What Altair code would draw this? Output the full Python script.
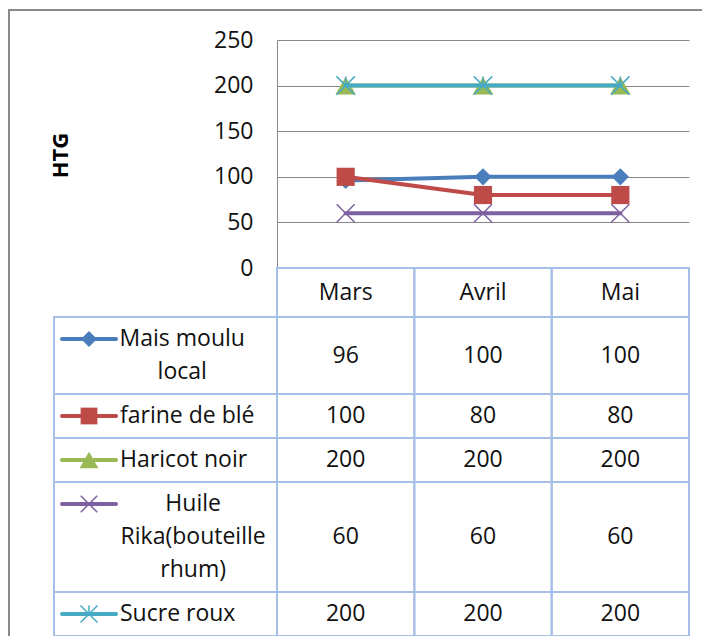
import altair as alt
import pandas as pd

# ---------------- data ----------------
months = ["Mars", "Avril", "Mai"]
series = ["Mais moulu local", "farine de blé", "Haricot noir",
          "Huile Rika(bouteille rhum)", "Sucre roux"]
label_lines = [["Mais moulu", "local"], ["farine de blé"], ["Haricot noir"],
               ["Huile", "Rika(bouteille", "rhum)"], ["Sucre roux"]]
mais = [96, 100, 100]
farine = [100, 80, 80]
haricot = [200, 200, 200]
huile = [60, 60, 60]
sucre = [200, 200, 200]
series_values = [mais, farine, haricot, huile, sucre]
y_ticks = [0, 50, 100, 150, 200, 250]
y_title = "HTG"

# ---------------- style / layout ----------------
FONT = "Open Sans"
FS = 23
GRID = "#878787"
BORDER = "#a6bfe8"
COLORS = ["#4a7ebb", "#be4b48", "#98b954", "#7d60a0", "#46aac5"]
X_PATH = "M-1,-1L1,1M-1,1L1,-1"
STAR_PATH = "M-1,-1L1,1M-1,1L1,-1M0,-1L0,0"
MARKERS = [
    dict(shape="diamond", filled=True, size=300, strokeWidth=1),
    dict(shape="square", filled=True, size=330, strokeWidth=1),
    dict(shape="triangle-up", filled=True, size=420, strokeWidth=1),
    dict(shape=X_PATH, filled=False, size=320, strokeWidth=1.5),
    dict(shape=STAR_PATH, filled=False, size=340, strokeWidth=1.5),
]

W, H = 412, 228
COL_PX = W / len(months)
LINE_PX = 33.0
PAD_U = 11 / LINE_PX
HDR_U = 49 / LINE_PX
LABEL_U = 223 / COL_PX          # width of the legend/label column (in column units)
SYM_X0 = -LABEL_U + 8 / COL_PX  # legend line start
SYM_X1 = -LABEL_U + 62 / COL_PX # legend line end
TXT_X = -LABEL_U + 66 / COL_PX  # label text start


def est_width(s):
    w = 0.0
    for ch in s:
        if ch in "il()t.,'":
            w += 0.30
        elif ch in "mMwW":
            w += 0.85
        elif ch == " ":
            w += 0.26
        else:
            w += 0.57
    return w * FS


# ---------------- line chart ----------------
rows = []
for s, vals in zip(series, series_values):
    for m, v in zip(months, vals):
        rows.append({"Produit": s, "Mois": m, "Prix": v})
df = pd.DataFrame(rows)

x_enc = alt.X("Mois:N", sort=months,
              scale=alt.Scale(type="point", domain=months, padding=0.5),
              axis=None)
y_axis = alt.Axis(values=y_ticks, grid=True, gridColor=GRID, gridWidth=1,
                  domain=True, domainColor=GRID, domainWidth=1, ticks=False,
                  labelPadding=24, labelFont=FONT, labelFontSize=FS,
                  labelColor="#111111",
                  title=y_title, titleFont=FONT, titleFontSize=22,
                  titleFontWeight="bold", titleColor="#000000",
                  titleX=-217, titleY=H / 2 + 1, titleAngle=270,
                  titleBaseline="middle", titleAlign="center")
y_enc = alt.Y("Prix:Q", scale=alt.Scale(domain=[0, 250], nice=False),
              axis=y_axis)

frame = alt.Chart(pd.DataFrame({"f": [0]})).mark_rect(
    fillOpacity=0, stroke="#8a8a8a", strokeWidth=2
).encode(x=alt.value(-268), x2=alt.value(460),
         y=alt.value(-30), y2=alt.value(640))

plot_layers = [frame]
for i, s in enumerate(series):
    sub = df[df["Produit"] == s]
    plot_layers.append(
        alt.Chart(sub).mark_line(color=COLORS[i], strokeWidth=4,
                                 strokeCap="round", strokeJoin="round")
        .encode(x=x_enc, y=y_enc))
    mk = MARKERS[i]
    plot_layers.append(
        alt.Chart(sub).mark_point(shape=mk["shape"], filled=mk["filled"],
                                  size=mk["size"], color=COLORS[i],
                                  strokeWidth=mk["strokeWidth"], opacity=1)
        .encode(x=x_enc, y=y_enc))
plot = alt.layer(*plot_layers)

# ---------------- data table ----------------
row_units = [len(l) + PAD_U for l in label_lines]
row_tops = []
t = HDR_U
for u in row_units:
    row_tops.append(t)
    t += u
total_u = t

cells, vals_txt, hdr_txt, legend, lab_left, lab_center = [], [], [], [], [], []
for j, m in enumerate(months):
    cells.append({"x0": j, "x1": j + 1, "y0": 0, "y1": HDR_U})
    hdr_txt.append({"xc": j + 0.5, "yc": HDR_U / 2, "t": m})
for i, s in enumerate(series):
    top, u = row_tops[i], row_units[i]
    cells.append({"x0": -LABEL_U, "x1": 0, "y0": top, "y1": top + u})
    for j in range(len(months)):
        cells.append({"x0": j, "x1": j + 1, "y0": top, "y1": top + u})
        vals_txt.append({"xc": j + 0.5, "yc": top + u / 2,
                         "t": str(series_values[i][j])})
    first_y = top + PAD_U / 2 + 0.5
    legend.append({"s": s, "lx0": SYM_X0, "lx1": SYM_X1,
                   "lxc": (SYM_X0 + SYM_X1) / 2, "ly": first_y})
    lines = label_lines[i]
    if len(lines) == 1:
        lab_left.append({"xc": TXT_X, "yc": first_y, "t": lines[0]})
    else:
        wmax = max(est_width(l) for l in lines)
        xc = TXT_X + (wmax / 2) / COL_PX
        for k, l in enumerate(lines):
            lab_center.append({"xc": xc, "yc": top + PAD_U / 2 + k + 0.5,
                               "t": l})

tx = alt.Scale(domain=[0, len(months)], range=[0, W], nice=False, zero=False)
ty = alt.Scale(domain=[0, total_u], range=[H, H + total_u * LINE_PX],
               nice=False, zero=False)

cell_layer = alt.Chart(pd.DataFrame(cells)).mark_rect(
    fillOpacity=0, stroke=BORDER, strokeWidth=2
).encode(x=alt.X("x0:Q", scale=tx, axis=None), x2="x1:Q",
         y=alt.Y("y0:Q", scale=ty, axis=None), y2="y1:Q")


def text_layer(data, align):
    return alt.Chart(pd.DataFrame(data)).mark_text(
        font=FONT, fontSize=FS, color="#111111", align=align,
        baseline="middle"
    ).encode(x=alt.X("xc:Q", scale=tx, axis=None),
             y=alt.Y("yc:Q", scale=ty, axis=None),
             text="t:N")


table_layers = [cell_layer,
                text_layer(hdr_txt, "center"),
                text_layer(vals_txt, "center"),
                text_layer(lab_left, "left"),
                text_layer(lab_center, "center")]
ldf = pd.DataFrame(legend)
for i, s in enumerate(series):
    sub = ldf[ldf["s"] == s]
    table_layers.append(
        alt.Chart(sub).mark_rule(color=COLORS[i], strokeWidth=4,
                                 strokeCap="round")
        .encode(x=alt.X("lx0:Q", scale=tx, axis=None), x2="lx1:Q",
                y=alt.Y("ly:Q", scale=ty, axis=None)))
    mk = MARKERS[i]
    table_layers.append(
        alt.Chart(sub).mark_point(shape=mk["shape"], filled=mk["filled"],
                                  size=mk["size"] * 0.85, color=COLORS[i],
                                  strokeWidth=mk["strokeWidth"], opacity=1)
        .encode(x=alt.X("lxc:Q", scale=tx, axis=None),
                y=alt.Y("ly:Q", scale=ty, axis=None)))
table = alt.layer(*table_layers)

chart = alt.layer(plot, table).resolve_scale(
    x="independent", y="independent"
).properties(
    width=W, height=H,
    padding={"left": 269, "top": 32, "right": 13, "bottom": 368},
    autosize=alt.AutoSizeParams(type="none"),
    background="white",
).configure_view(strokeWidth=0)

chart.save("out.html", embed_options={"renderer": "svg", "actions": False})
